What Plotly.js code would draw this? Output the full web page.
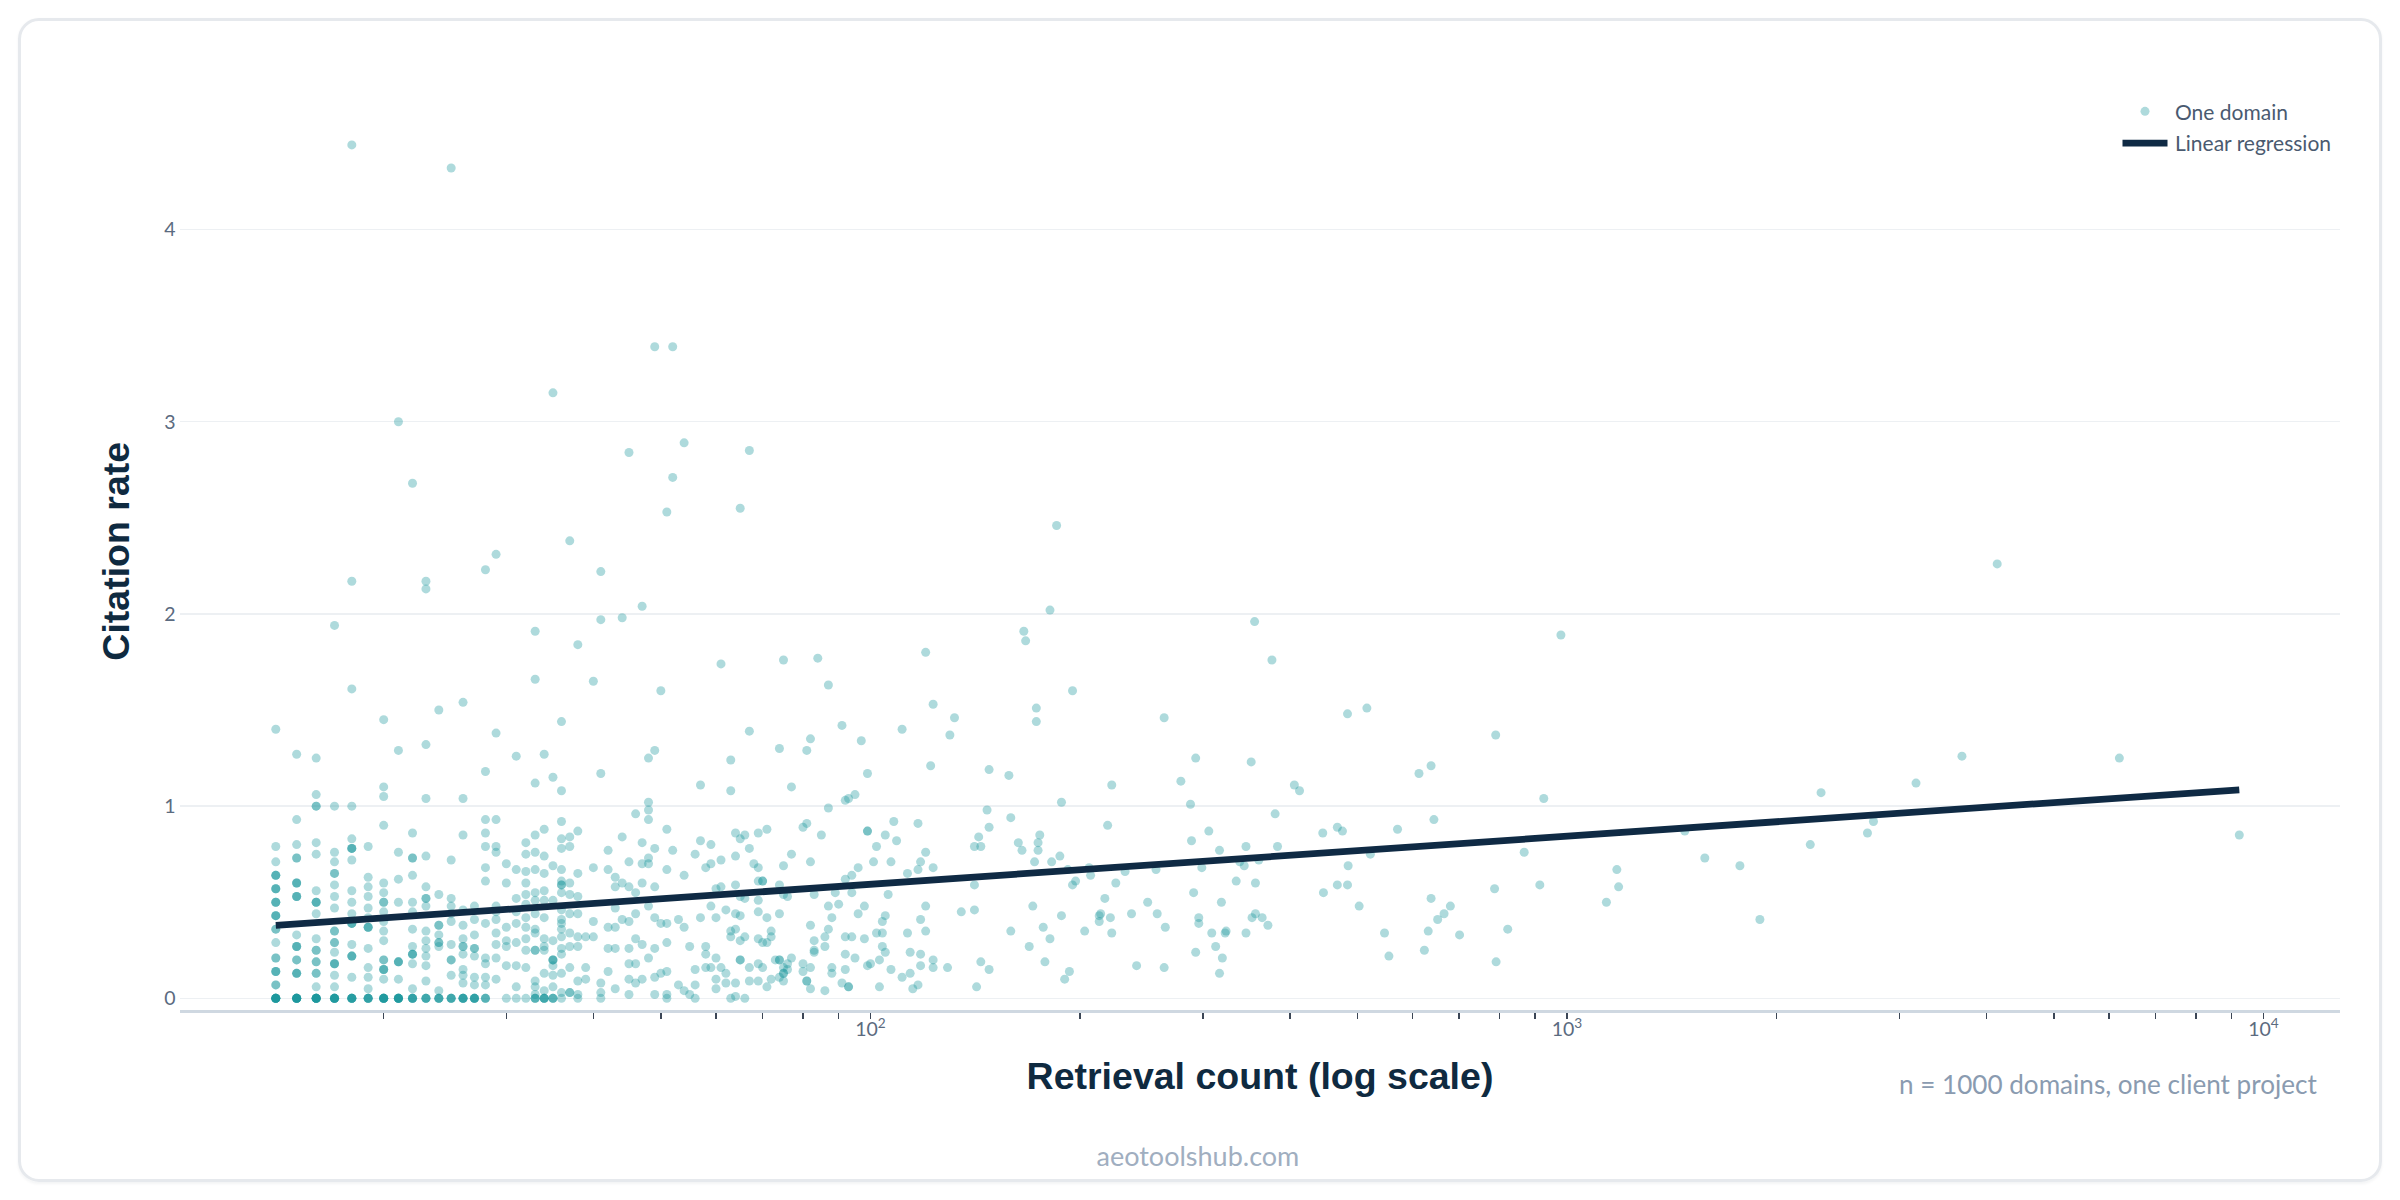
<!DOCTYPE html>
<html>
<head>
<meta charset="utf-8">
<script src="https://cdn.plot.ly/plotly-3.0.1.min.js"></script>
<style>
  html, body { margin: 0; padding: 0; background: #ffffff; width: 2400px; height: 1200px; overflow: hidden; }
  #wrap { position: absolute; left: 0; top: 0; width: 1600px; height: 800px; transform: scale(1.5); transform-origin: 0 0; }
  #card { position: absolute; left: 12px; top: 12px; width: 1576px; height: 776px; box-sizing: border-box;
          border: 2px solid #e6e9ed; border-radius: 14px; box-shadow: 0 1px 2px rgba(15,42,64,0.05); }
  #chart { position: absolute; left: 0; top: 0; width: 1600px; height: 800px; }
</style>
</head>
<body>
<div id="wrap">
  <div id="card"></div>
  <div id="chart"></div>
</div>
<script>
// ---- Data: retrieval counts (x) and the citation rates of the domains at each count (y) ----
const denseCounts = [14,15,16,17,18,19,20,21,22,23,24,25,26,27,28,29,30,31,32,33,34,35,36,37,38,39,40,41,42,43,44,45,46,47,48,49,50,51];
const denseRates = [
  [0,0,0,0,0,0,0,0,0.07,0.07,0.14,0.14,0.14,0.21,0.21,0.29,0.36,0.36,0.43,0.43,0.43,0.5,0.5,0.5,0.57,0.57,0.57,0.64,0.64,0.64,0.71,0.79,1.4],
  [0,0,0,0,0,0,0,0,0.13,0.13,0.13,0.2,0.2,0.27,0.27,0.27,0.33,0.53,0.53,0.53,0.6,0.6,0.6,0.73,0.73,0.8,0.93,1.27],
  [0,0,0,0,0,0,0,0,0.06,0.13,0.13,0.19,0.19,0.25,0.25,0.31,0.44,0.5,0.5,0.5,0.56,0.75,0.81,1,1,1.06,1.25],
  [0,0,0,0,0,0,0,0.06,0.12,0.18,0.18,0.18,0.24,0.29,0.29,0.35,0.35,0.47,0.53,0.59,0.65,0.65,0.71,0.76,1,1.94],
  [0,0,0,0,0,0,0.11,0.22,0.22,0.22,0.28,0.39,0.39,0.39,0.44,0.5,0.56,0.72,0.78,0.78,0.78,0.83,1,1.61,2.17,4.44],
  [0,0,0,0,0,0.05,0.11,0.16,0.26,0.37,0.37,0.37,0.42,0.47,0.53,0.58,0.63,0.79],
  [0,0,0,0,0,0,0,0.1,0.15,0.15,0.15,0.2,0.2,0.3,0.35,0.4,0.45,0.5,0.5,0.55,0.6,0.9,1.05,1.1,1.45],
  [0,0,0,0,0,0,0,0.1,0.19,0.19,0.19,0.5,0.62,0.76,1.29,3],
  [0,0,0,0,0,0.05,0.18,0.23,0.23,0.23,0.27,0.36,0.45,0.5,0.64,0.73,0.73,0.86,2.68],
  [0,0,0,0,0.09,0.17,0.22,0.26,0.3,0.35,0.48,0.52,0.52,0.58,0.74,1.04,1.32,2.13,2.17],
  [0,0,0,0,0.04,0.27,0.29,0.29,0.33,0.38,0.38,0.54,1.5],
  [0,0,0,0,0.12,0.2,0.2,0.28,0.4,0.44,0.48,0.52,0.72,4.32],
  [0,0,0,0,0,0.08,0.12,0.15,0.23,0.27,0.27,0.31,0.38,0.46,0.85,1.04,1.54],
  [0,0,0,0,0,0.07,0.11,0.22,0.26,0.26,0.33,0.41,0.48],
  [0,0,0,0.07,0.11,0.18,0.21,0.39,0.61,0.68,0.79,0.86,0.93,1.18,2.23],
  [0.1,0.21,0.28,0.34,0.41,0.45,0.48,0.76,0.79,0.93,1.38,2.31],
  [0,0.17,0.27,0.3,0.37,0.6,0.7],
  [0,0.06,0.17,0.29,0.39,0.45,0.52,0.67,1.26],
  [0,0.16,0.25,0.31,0.37,0.42,0.49,0.54,0.6,0.66,0.75,0.81],
  [0,0,0,0.02,0.06,0.09,0.25,0.25,0.34,0.36,0.44,0.51,0.55,0.67,0.76,0.85,1.12,1.66,1.91],
  [0,0,0,0,0.04,0.13,0.25,0.27,0.31,0.42,0.51,0.56,0.65,0.74,0.88,1.27],
  [0,0,0,0.06,0.12,0.17,0.2,0.2,0.2,0.3,0.51,0.69,1.15,3.15],
  [0,0.03,0.13,0.23,0.26,0.32,0.36,0.39,0.41,0.46,0.55,0.59,0.59,0.61,0.67,0.78,0.83,0.92,1.08,1.44],
  [0.03,0.03,0.16,0.27,0.34,0.44,0.54,0.6,0.79,0.84,2.38],
  [0,0.02,0.09,0.27,0.32,0.44,0.53,0.65,0.87,1.84],
  [0.1,0.16,0.32],
  [0.32,0.4,0.68,1.65],
  [0,0.03,0.08,1.17,1.97,2.22],
  [0.14,0.26,0.37,0.67,0.77],
  [0.05,0.26,0.37,0.47,0.58,0.63],
  [0.41,0.6,0.84,1.98],
  [0.02,0.1,0.18,0.26,0.4,0.58,0.71,2.84],
  [0.08,0.18,0.31,0.44,0.55,0.96],
  [0.1,0.28,0.6,0.7,0.81,2.04],
  [0.21,0.48,0.7,0.73,0.93,0.98,1.02,1.25],
  [0.02,0.11,0.26,0.42,0.58,0.78,1.29,3.39],
  [0.13,0.39,1.6],
  [0,0.02,0.14,0.29,0.39,0.67,0.88,2.53]
];

const midCounts = [52,53,54,55,56,57,58,59,60,61,62,63,64,65,66,67,68,69,70,71,72,73,74,75,76,77,80,81,82,83,84,85,86,87,88,89,90,91,92,93,94,95,96,97,98,99,100,101,102,103,104,105,106,107,108,109,111,113,114,115,117,118,120,122,123,129,130,132,135,141,142,143,144,147,148,158,159,163,165,166,167,169,171,172,173,174,175,177,178,181,182,185,187,188,190,192,193,195,197];
const midRates = [
  [0.77,2.71,3.39],[0.07,0.41],[0.04,0.37,0.64,2.89],[0.02,0.27],[0,0.07,0.15,0.75],
  [0.42,0.82,1.11],[0.16,0.23,0.27,0.68],[0.16,0.48,0.7,0.8],[0.05,0.1,0.21,0.42,0.57],[0.16,0.58,0.72,1.74],
  [0.08,0.13,0.46],[0,0.32,0.35,1.08,1.24],[0.01,0.08,0.36,0.44,0.59,0.74,0.86],[0.2,0.2,0.3,0.43,0.53,0.83,2.55],[0,0.32,0.52,0.85],
  [0.09,0.16,0.78,1.39,2.85],[0.7],[0.09,0.18,0.31,0.45,0.51,0.61,0.68,0.86],[0.16,0.29,0.61,0.61],[0.06,0.29,0.42,0.88],
  [0.1,0.32,0.35],[0.2],[0.11,0.2,0.2,0.44,0.59,1.3],[0.09,0.13,0.13,0.16,0.54,0.69,1.76],[0.15,0.18,0.53],
  [0.21,0.75,1.1],[0.14,0.18,0.89],[0.09,0.09,0.91,1.29],[0.05,0.16,0.38,0.71,1.35],[0.24,0.25,0.3,0.54],
  [1.77],[0.85],[0.04,0.27,0.32],[0.36,0.48,0.99,1.63],[0.13,0.16,0.42],
  [0.55],[0.49],[0.08,1.42],[0.15,0.23,0.32,0.62,1.03],[0.06,0.06,1.04],
  [0.32,0.55,0.64],[0.21,1.06],[0.44,0.68],[1.34],[0.31,0.48],
  [0.17,0.87,0.87,1.17],[0.18],[0.71],[0.34,0.79],[0.06,0.2],
  [0.27,0.34,0.4],[0.24,0.43,0.85],[0.54],[0.15,0.71],[0.92],
  [0.82],[0.11,1.4],[0.34,0.65],[0.13,0.24],[0.05],
  [0.07,0.67,0.91],[0.17,0.23,0.41,0.71],[0.35,0.48,0.76,1.8],[1.21],[0.16,0.2,0.68,1.53],
  [0.16],[1.37],[1.46],[0.45],[0.46,0.59,0.79],
  [0.06],[0.84],[0.19,0.79],[0.98],[0.15,0.89,1.19],
  [1.16],[0.35,0.94],[0.81],[0.77],[1.91],
  [1.86],[0.27],[0.48],[0.71],[1.44,1.51],
  [0.77,0.81],[0.85],[0.37],[0.19],[0.31,2.02],
  [0.71],[2.46],[0.74],[0.43,1.02],[0.1],
  [0.67],[0.14],[0.59,1.6],[0.61]
];

const tailCounts = [203,206,207,213,214,217,219,221,222,225,232,237,241,250,257,258,264,265,279,288,289,291,293,296,299,306,309,313,317,319,320,323,324,335,339,344,346,352,353,356,357,361,365,372,377,381,384,406,413,446,447,468,476,484,485,503,516,522,547,555,571,613,624,632,638,644,652,666,680,701,787,790,791,822,868,914,926,980,1139,1179,1186,1476,1577,1771,1892,2235,2316,2700,2754,3170,3690,4146,6209,9230];
const tailRates = [
  [0.35],[0.68],[0.64],[0.4,0.43],[0.44],[0.52],[0.9],[0.42],[0.34,1.11],[0.6],
  [0.66],[0.44],[0.17],[0.5],[0.67],[0.44],[0.16,1.46],[0.37],[1.13],[1.01],
  [0.82],[0.55],[0.24,1.25],[0.39,0.42],[0.68],[0.87],[0.34],[0.27],[0.13,0.77],[0.5],
  [0.21],[0.34],[0.35],[0.61],[0.71],[0.69],[0.34,0.79],[1.23],[0.42],[1.96],
  [0.44,0.6],[0.72],[0.42],[0.38],[1.76],[0.96],[0.79],[1.11],[1.08],[0.86],
  [0.55],[0.59,0.89],[0.87],[0.59,1.48],[0.69],[0.48],[1.51],[0.75],[0.34],[0.22],
  [0.88],[1.17],[0.25],[0.35],[0.52,1.21],[0.93],[0.41],[0.44],[0.48],[0.33],
  [0.57],[1.37],[0.19],[0.36],[0.76],[0.59],[1.04],[1.89],[0.5],[0.67],
  [0.58],[0.87],[0.73],[0.69],[0.41],[0.8],[1.07],[0.86],[0.92],[1.12],
  [1.26],[2.26],[1.25],[0.85]
];

// Fitted line shown in the chart (end points)
const regressionX = [14, 9230];
const regressionY = [0.38, 1.085];

const xTickVals = [100, 1000, 10000];
const xTickText = ['10<sup>2</sup>', '10<sup>3</sup>', '10<sup>4</sup>'];
const yTickVals = [0, 1, 2, 3, 4];

// ---- Build the point table from the arrays above ----
function expand(counts, rates, xs, ys) {
  counts.forEach(function (c, i) {
    rates[i].forEach(function (r) { xs.push(c); ys.push(r); });
  });
}
const domX = [], domY = [];
expand(denseCounts, denseRates, domX, domY);
expand(midCounts, midRates, domX, domY);
expand(tailCounts, tailRates, domX, domY);

const traces = [
  {
    type: 'scatter', mode: 'markers', name: 'One domain',
    x: domX, y: domY,
    marker: { size: 6, color: 'rgb(22,150,156)', opacity: 0.35, line: { width: 0 } },
    hoverinfo: 'skip'
  },
  {
    type: 'scatter', mode: 'lines', name: 'Linear regression',
    x: regressionX, y: regressionY,
    line: { color: '#0f2a44', width: 4.5 },
    hoverinfo: 'skip'
  }
];

const layout = {
  width: 1600, height: 800,
  margin: { l: 120, r: 40, t: 62, b: 127, pad: 0 },
  paper_bgcolor: 'rgba(0,0,0,0)',
  plot_bgcolor: 'rgba(0,0,0,0)',
  font: { family: 'Lato, "Open Sans", sans-serif', color: '#5b6b80', size: 13 },
  showlegend: true,
  legend: {
    x: 1, xanchor: 'right', y: 1.0055, yanchor: 'top',
    bgcolor: 'rgba(0,0,0,0)', borderwidth: 0,
    font: { family: 'Lato, sans-serif', size: 14, color: '#4a5a70' }
  },
  xaxis: {
    type: 'log',
    range: [1.0086, 4.1098],
    tickmode: 'array', tickvals: xTickVals, ticktext: xTickText,
    ticks: '',
    showgrid: false, zeroline: false,
    showline: true, linecolor: '#cfd8e1', linewidth: 2,
    tickfont: { family: 'Lato, sans-serif', size: 13, color: '#5b6b80' },
    minor: { ticks: 'outside', ticklen: 4, tickwidth: 1, tickcolor: '#3b4656', dtick: 'D1', showgrid: false },
    title: { text: 'Retrieval count (log scale)', standoff: 16,
             font: { family: '"Liberation Sans", Arial, sans-serif', size: 25, color: '#0f2a40', weight: 'bold' } }
  },
  yaxis: {
    range: [-0.058, 4.71],
    tickmode: 'array', tickvals: yTickVals,
    ticks: '',
    ticklabelstandoff: 2,
    showgrid: true, gridcolor: '#edf0f3', gridwidth: 1,
    zeroline: false, showline: false,
    tickfont: { family: 'Lato, sans-serif', size: 13, color: '#5b6b80' },
    title: { text: 'Citation rate', standoff: 15,
             font: { family: '"Liberation Sans", Arial, sans-serif', size: 25, color: '#0f2a40', weight: 'bold' } }
  },
  annotations: [
    {
      xref: 'paper', yref: 'paper', x: 0.991, y: -0.0815,
      xanchor: 'right', yanchor: 'middle', showarrow: false,
      text: 'n = 1000 domains, one client project',
      font: { family: 'Lato, sans-serif', size: 17.4, color: '#8a9bb0' }
    },
    {
      xref: 'paper', yref: 'paper', x: 0.4715, y: -0.1585,
      xanchor: 'center', yanchor: 'middle', showarrow: false,
      text: 'aeotoolshub.com',
      font: { family: 'Lato, sans-serif', size: 18, color: '#a0aec0' }
    }
  ]
};

Plotly.newPlot('chart', traces, layout, { staticPlot: true, displayModeBar: false });
</script>
</body>
</html>
